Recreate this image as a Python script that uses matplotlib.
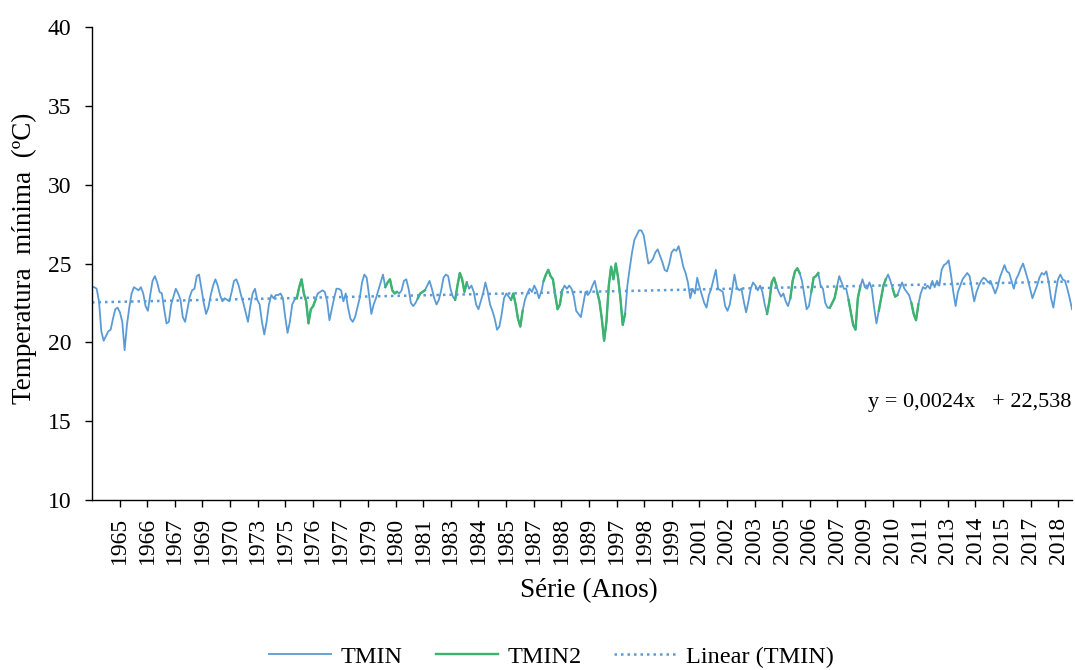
import numpy as np
import matplotlib
matplotlib.use("Agg")
import matplotlib.pyplot as plt

plt.rcParams["font.family"] = ["Liberation Serif", "DejaVu Serif"]

# monthly minimum temperature, in order along the x axis
tmin = [
    23.5, 23.5, 23.4, 22.6, 20.7, 20.1, 20.4, 20.7, 20.8, 21.5,
    22.1, 22.2, 21.9, 21.3, 19.5, 21.1, 22.2, 23.1, 23.5, 23.4,
    23.3, 23.5, 23.1, 22.3, 22.0, 23.0, 23.9, 24.2, 23.8, 23.2,
    23.1, 22.1, 21.2, 21.3, 22.4, 22.9, 23.4, 23.1, 22.7, 21.6,
    21.3, 22.1, 22.9, 23.3, 23.4, 24.2, 24.3, 23.4, 22.5, 21.8,
    22.2, 23.0, 23.6, 24.0, 23.6, 23.0, 22.6, 22.8, 22.7, 22.6,
    23.2, 23.9, 24.0, 23.6, 23.0, 22.5, 21.9, 21.3, 22.3, 23.1,
    23.4, 22.7, 22.4, 21.3, 20.5, 21.3, 22.4, 23.0, 22.8, 23.0,
    23.0, 23.1, 22.8, 21.6, 20.6, 21.3, 22.4, 22.7, 22.8, 23.5,
    24.0, 23.1, 22.6, 21.2, 22.1, 22.3, 22.7, 23.1, 23.2, 23.3,
    23.2, 22.6, 21.4, 22.1, 22.8, 23.4,
    23.4, 23.3, 22.6, 23.1, 22.2, 21.5, 21.3, 21.6, 22.2, 22.8,
    23.8, 24.3, 24.1, 23.0, 21.8, 22.4, 22.8, 23.3, 23.8, 24.3,
    23.5, 23.8, 24.0, 23.3, 23.1, 23.2, 23.1, 23.3, 23.9, 24.0,
    23.4, 22.5, 22.3, 22.5, 22.8, 23.1, 23.2, 23.3, 23.6, 23.9,
    23.4, 22.8, 22.4, 22.7, 23.3, 24.1, 24.3, 24.2, 23.4, 22.9,
    22.7, 23.6, 24.4, 24.0, 23.2, 23.8, 23.4, 23.6, 23.2, 22.4,
    22.1, 22.6, 23.1, 23.8, 23.2, 22.4, 22.0, 21.5, 20.8, 21.0,
    21.8, 22.8, 23.1, 22.9, 22.7, 23.1, 22.4, 21.5, 21.0, 22.0,
    22.7, 23.1, 23.4, 23.2, 23.6, 23.3, 22.8, 23.2, 23.9, 24.3,
    24.6, 24.2, 24.0, 23.0, 22.1, 22.4, 23.3, 23.6, 23.4, 23.6,
    23.4, 22.9, 22.0, 21.8,
    21.6, 22.4, 23.2, 23.0, 23.2, 23.6, 23.9, 23.2,
    22.6, 21.5, 20.1, 21.3, 23.6, 24.8, 24.0, 25.0, 24.1, 22.8,
    21.1, 21.8, 23.6,
    24.7, 25.7, 26.5, 26.8, 27.1, 27.1, 26.8, 25.9, 25.0, 25.1,
    25.3, 25.7, 25.9, 25.5, 25.1, 24.6, 24.5, 25.0, 25.7, 25.9,
    25.8, 26.1, 25.5, 24.8, 24.4, 23.8, 22.8, 23.4, 23.1, 24.1,
    23.5, 23.0, 22.5, 22.2, 23.0, 23.4, 24.0, 24.6, 23.4, 23.3,
    23.2, 22.3, 22.0, 22.4, 23.3, 24.3, 23.5, 23.3, 23.4, 22.6,
    21.9, 22.6, 23.4, 23.8, 23.6, 23.3, 23.6, 23.2, 22.4, 21.8,
    22.6, 23.8, 24.1, 23.6, 23.2, 22.9, 23.1, 22.6, 22.3, 22.8,
    23.9, 24.5, 24.7, 24.4, 23.9, 23.0, 22.1, 22.3, 23.2, 24.1,
    24.2, 24.4, 23.6,
    23.4, 22.5, 22.2, 22.2, 22.5, 22.8, 23.5, 24.2, 23.8, 23.4,
    23.4, 22.7, 21.9, 21.1, 20.8, 22.8, 23.5, 24.0, 23.5, 23.4,
    23.8, 23.4, 22.2, 21.2, 22.0, 22.8, 23.6, 24.0, 24.3, 23.9,
    23.4, 22.9, 23.0, 23.4, 23.8, 23.4, 23.2, 23.0, 22.5, 21.8,
    21.4, 22.4, 23.1, 23.5, 23.4, 23.6, 23.4, 23.9, 23.5, 23.9,
    23.6, 24.6, 24.9, 25.0, 25.2, 24.3, 23.2, 22.3, 23.2, 23.6,
    24.0, 24.2, 24.4, 24.2, 23.4, 22.6, 23.2, 23.6, 23.9, 24.1,
    24.0, 23.8, 23.9, 23.5, 23.1, 23.5, 24.1, 24.5, 24.9, 24.5,
    24.4, 23.9, 23.4, 24.0, 24.3, 24.7, 25.0, 24.5, 24.0, 23.4,
    22.8, 23.2, 23.6, 24.1, 24.4, 24.3, 24.5, 23.8, 22.8, 22.2,
    23.2, 24.0, 24.3, 24.0, 23.9, 23.4, 22.8, 22.1,
]

# months (inclusive index ranges) that belong to the TMIN2 series
tmin2_ranges = [
    (88, 96), (126, 131), (140, 143), (156, 161), (180, 185), (194, 202),
    (217, 229), (290, 294), (300, 304), (309, 312),
    (317, 320), (325, 330), (338, 341), (344, 346), (352, 355),
]

year_labels = [
    "1965", "1966", "1967", "1969", "1970", "1973", "1975", "1976", "1977",
    "1979", "1980", "1981", "1983", "1984", "1985", "1987", "1988", "1989",
    "1997", "1998", "1999", "2001", "2002", "2003", "2005", "2006", "2007",
    "2009", "2010", "2011", "2013", "2014", "2015", "2017", "2018",
]

tmin = np.array(tmin)
n = len(tmin)
x = np.arange(n)

tmin2 = np.full(n, np.nan)
for a, b in tmin2_ranges:
    tmin2[a:b + 1] = tmin[a:b + 1]

coef = np.polyfit(x, tmin, 1)
trend = np.polyval(coef, x)

blue = "#5B9BD5"
green = "#3CB46E"

fig = plt.figure(figsize=(10.75, 6.7), dpi=100)
ax = fig.add_axes([0.0856, 0.2537, 0.9116, 0.706])

ax.plot(x, tmin, color=blue, lw=1.3, label="TMIN")
ax.plot(x, tmin2, color=green, lw=1.7, label="TMIN2")
ax.plot(x, trend, color=blue, lw=1.8, linestyle=(0, (1, 1.6)), label="Linear (TMIN)")

ax.set_xlim(0, n - 1)
ax.set_ylim(10, 40)
ax.set_yticks(np.arange(10, 41, 5))

step = (n - 1) / 35.5
ax.set_xticks(step * np.arange(1, len(year_labels) + 1))
ax.set_xticklabels(year_labels, rotation=90)

ax.spines["right"].set_visible(False)
ax.spines["top"].set_visible(False)
for s in ("left", "bottom"):
    ax.spines[s].set_linewidth(1.0)
ax.tick_params(axis="both", direction="out", length=5, width=1.0, labelsize=17)
ax.tick_params(axis="x", pad=7)
ax.tick_params(axis="y", pad=10)

ax.set_xlabel("Série (Anos)", fontsize=19.5)
ax.xaxis.set_label_coords(0.507, -0.166)
ax.set_ylabel("Temperatura  mínima  (ºC)", fontsize=19.5)
ax.yaxis.set_label_coords(-0.056, 0.512)

ax.text(0.999, 16.2, "y = 0,0024x   + 22,538", transform=ax.get_yaxis_transform(),
        ha="right", va="center", fontsize=16)

fig.legend(loc="center", bbox_to_anchor=(0.513, 0.02), ncol=3, frameon=False,
           fontsize=17.5, handlelength=2.55, columnspacing=1.35, handletextpad=0.4)

fig.savefig("out.png", dpi=100)
